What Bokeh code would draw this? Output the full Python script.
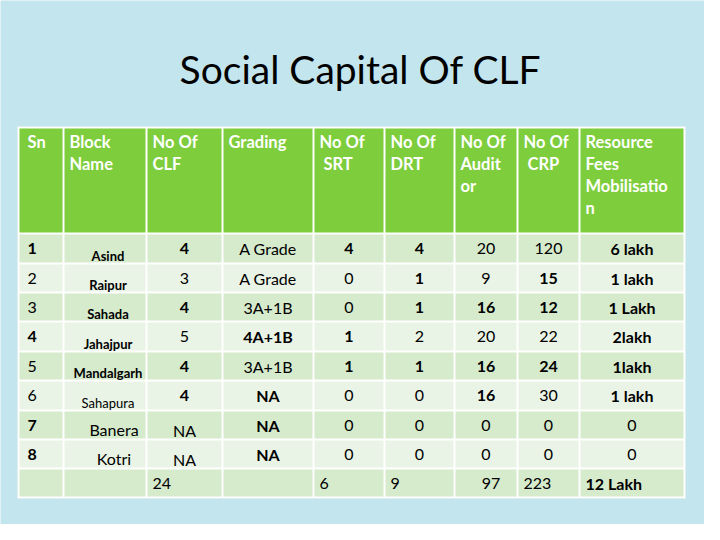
from bokeh.plotting import figure
from bokeh.models import ColumnDataSource, Range1d
from bokeh.core.properties import value
from bokeh.embed import file_html
from bokeh.resources import INLINE

# ---------------- data ----------------
title_text = "Social Capital Of CLF"
headers = ["Sn", "Block\nName", "No  Of\nCLF", "Grading", "No Of\n\u00a0SRT",
           "No Of\nDRT", "No Of\nAudit\nor", "No Of\n\u00a0CRP",
           "Resource\nFees\nMobilisatio\nn"]
sn = ["1", "2", "3", "4", "5", "6", "7", "8", ""]
block_name = ["Asind", "Raipur", "Sahada", "Jahajpur", "Mandalgarh", "Sahapura", "Banera", "Kotri", ""]
no_of_clf = ["4", "3", "4", "5", "4", "4", "NA", "NA", "24"]
grading = ["A Grade", "A Grade", "3A+1B", "4A+1B", "3A+1B", "NA", "NA", "NA", ""]
no_of_srt = ["4", "0", "0", "1", "1", "0", "0", "0", "6"]
no_of_drt = ["4", "1", "1", "2", "1", "0", "0", "0", "9"]
no_of_auditor = ["20", "9", "16", "20", "16", "16", "0", "0", "97"]
no_of_crp = ["120", "15", "12", "22", "24", "30", "0", "0", "223"]
resource_fees = ["6 lakh", "1 lakh", "1 Lakh", "2lakh", "1lakh", "1 lakh", "0", "0", "12 Lakh"]

columns = [sn, block_name, no_of_clf, grading, no_of_srt, no_of_drt,
           no_of_auditor, no_of_crp, resource_fees]

# ---------------- styles / layout ----------------
bold = [
    [1, 0, 0, 1, 0, 0, 1, 1, 0],
    [1, 1, 1, 1, 1, 0, 0, 0, 0],
    [1, 0, 1, 0, 1, 1, 0, 0, 0],
    [0, 0, 0, 1, 0, 1, 1, 1, 0],
    [1, 0, 0, 1, 1, 0, 0, 0, 0],
    [1, 1, 1, 0, 1, 0, 0, 0, 0],
    [0, 0, 1, 0, 1, 1, 0, 0, 0],
    [0, 1, 1, 0, 1, 0, 0, 0, 0],
    [1, 1, 1, 1, 1, 1, 0, 0, 1],
]
col_edges = [18, 63, 146, 222, 313, 384, 454, 517, 579, 684]
row_edges = [127, 233, 263, 292, 321, 351, 380, 410, 439, 468, 497]

FONT = "Lato"
HEADER_GREEN = "#7dcd3c"
BAND1 = "#d6eacc"
BAND2 = "#eaf4e6"
BG = "#c3e6ee"

p = figure(width=704, height=524, x_range=Range1d(0, 704), y_range=Range1d(524, 0),
           output_backend="svg", toolbar_location=None, min_border=0)
p.axis.visible = False
p.grid.visible = False
p.outline_line_color = None
p.background_fill_color = BG
p.border_fill_color = BG

# table white base
p.quad(left=[col_edges[0] - 1], right=[col_edges[-1] + 1],
       top=[row_edges[0] - 1], bottom=[row_edges[-1] + 1],
       fill_color="white", line_color="#dfeeee", line_width=1)

# cells
L, R, T, B, C = [], [], [], [], []
nrows = len(row_edges) - 1
for ri in range(nrows):
    for ci in range(len(col_edges) - 1):
        L.append(col_edges[ci] + 1)
        R.append(col_edges[ci + 1] - 1)
        T.append(row_edges[ri] + 1)
        B.append(row_edges[ri + 1] - 1)
        if ri == 0:
            C.append(HEADER_GREEN)
        elif ri % 2 == 1:
            C.append(BAND1)
        else:
            C.append(BAND2)
p.quad(left=L, right=R, top=T, bottom=B, fill_color=C, line_color=None)

# title
p.text(x=[360], y=[68], text=[title_text], text_font=value(FONT),
       text_font_size="39px", text_color="black", text_align="center",
       text_baseline="middle")

# headers
hx, hy, ht = [], [], []
for ci, h in enumerate(headers):
    pad = 9 if ci == 0 else 6
    for li, line in enumerate(h.split("\n")):
        hx.append(col_edges[ci] + pad)
        hy.append(141 + 22 * li)
        ht.append(line)
p.text(x=hx, y=hy, text=ht, text_font=value(FONT), text_font_size="16.5px",
       text_font_style="bold", text_color="white", text_align="left",
       text_baseline="middle")

# body cells
tx, ty, tt, tstyle, tsize, talign = [], [], [], [], [], []
for ci, col in enumerate(columns):
    for ri, val in enumerate(col):
        if val == "":
            continue
        top, bot = row_edges[ri + 1], row_edges[ri + 2]
        yc = (top + bot) / 2
        left, right = col_edges[ci], col_edges[ci + 1]
        size = "16px"
        dy = 0
        last = ri == len(col) - 1
        if ci == 0:
            x, al = left + 9, "left"
        elif last:
            if ci == 6:
                x, al = (left + right) / 2 + 5, "center"
            else:
                x, al = left + 6, "left"
        else:
            x, al = (left + right) / 2, "center"
        if ci == 1:
            if ri < 6:
                size = "13px"
                dy = 7
                x = x + 3
            else:
                dy = 4
                x = x + 9
        if ci == 2 and val == "NA":
            dy = 5
        tx.append(x)
        ty.append(yc + dy)
        tt.append(val)
        tstyle.append("bold" if bold[ci][ri] else "normal")
        tsize.append(size)
        talign.append(al)

src = ColumnDataSource(dict(x=tx, y=ty, text=tt, style=tstyle, size=tsize, align=talign))
p.text(x="x", y="y", text="text", source=src, text_font=value(FONT),
       text_font_size="size", text_font_style="style", text_align="align",
       text_baseline="middle", text_color="black")

open("out.html", "w").write(file_html(p, INLINE))
